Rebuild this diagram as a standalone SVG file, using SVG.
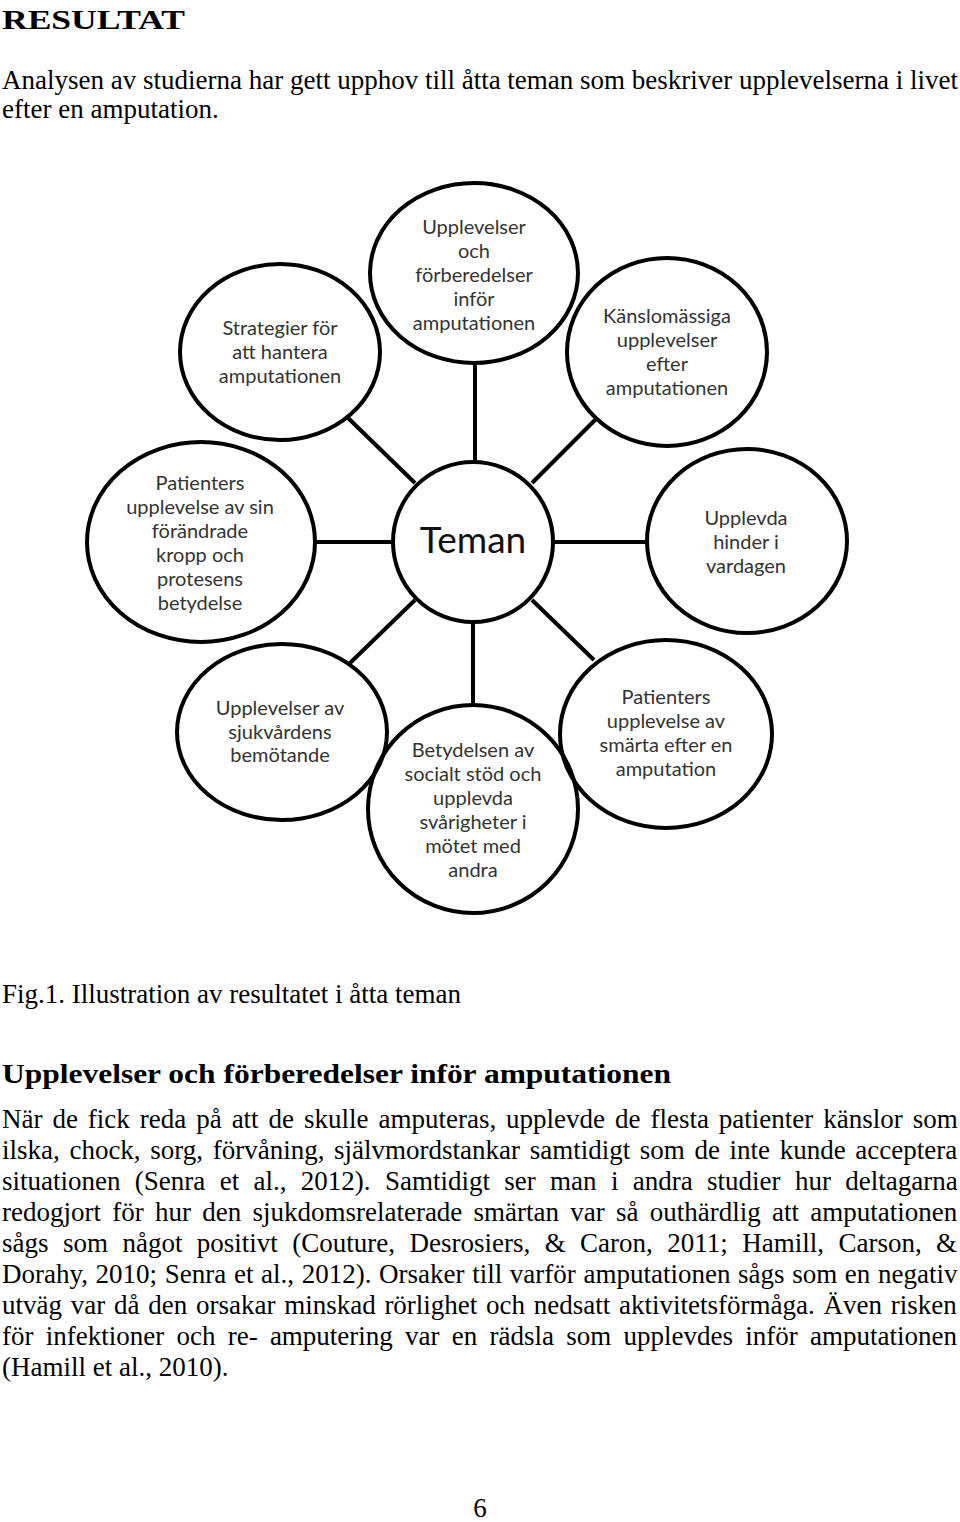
<svg xmlns="http://www.w3.org/2000/svg" width="960" height="1522" viewBox="0 0 960 1522">
<style>
.doc{font-family:"Liberation Serif","Times New Roman",serif;font-size:27px;fill:#000}
.b{font-weight:bold}
.node ellipse{fill:none;stroke:#000;stroke-width:4}
.lbl{font-family:Lato,"Noto Sans",sans-serif;font-size:20px;fill:#333;text-anchor:middle}
.conn line{stroke:#000;stroke-width:4}
</style>
<rect width="960" height="1522" fill="#fff"/>
<text class="doc b" x="2" y="29" font-size="36" textLength="183" lengthAdjust="spacingAndGlyphs">RESULTAT</text>
<text class="doc" x="2" y="89">Analysen av studierna har gett upphov till åtta teman som beskriver upplevelserna i livet</text>
<text class="doc" x="2" y="118">efter en amputation.</text>

<g class="conn" id="connectors">
<line x1="475" y1="363" x2="475" y2="463"/>
<line x1="346" y1="416" x2="415" y2="483"/>
<line x1="597" y1="418" x2="532" y2="483"/>
<line x1="315" y1="542" x2="393" y2="542"/>
<line x1="553" y1="542" x2="648" y2="542"/>
<line x1="415" y1="600" x2="350" y2="663"/>
<line x1="532" y1="600" x2="594" y2="660"/>
<line x1="473" y1="622" x2="473" y2="705"/>
</g>

<g class="node" id="n-teman">
<ellipse cx="473" cy="542" rx="80" ry="80"/>
<text x="473" y="553" text-anchor="middle" font-family="Lato,'Noto Sans',sans-serif" font-size="37" fill="#111">Teman</text>
</g>
<g class="node" id="n-top">
<ellipse cx="474" cy="273" rx="104" ry="90"/>
<text class="lbl"><tspan x="474" y="234">Upplevelser</tspan><tspan x="474" y="258">och</tspan><tspan x="474" y="282">förberedelser</tspan><tspan x="474" y="306">inför</tspan><tspan x="474" y="330">amputationen</tspan></text>
</g>
<g class="node" id="n-strategier">
<ellipse cx="280" cy="352" rx="100" ry="88"/>
<text class="lbl"><tspan x="280" y="335">Strategier för</tspan><tspan x="280" y="359">att hantera</tspan><tspan x="280" y="383">amputationen</tspan></text>
</g>
<g class="node" id="n-kansla">
<ellipse cx="667" cy="352" rx="100" ry="94"/>
<text class="lbl"><tspan x="667" y="323">Känslomässiga</tspan><tspan x="667" y="347">upplevelser</tspan><tspan x="667" y="371">efter</tspan><tspan x="667" y="395">amputationen</tspan></text>
</g>
<g class="node" id="n-kropp">
<ellipse cx="201" cy="542" rx="114" ry="100"/>
<text class="lbl"><tspan x="200" y="490">Patienters</tspan><tspan x="200" y="514">upplevelse av sin</tspan><tspan x="200" y="538">förändrade</tspan><tspan x="200" y="562">kropp och</tspan><tspan x="200" y="586">protesens</tspan><tspan x="200" y="610">betydelse</tspan></text>
</g>
<g class="node" id="n-hinder">
<ellipse cx="747" cy="541" rx="100" ry="92"/>
<text class="lbl"><tspan x="746" y="525">Upplevda</tspan><tspan x="746" y="549">hinder i</tspan><tspan x="746" y="573">vardagen</tspan></text>
</g>
<g class="node" id="n-sjukvard">
<ellipse cx="282" cy="732" rx="105" ry="88"/>
<text class="lbl"><tspan x="280" y="715">Upplevelser av</tspan><tspan x="280" y="739">sjukvårdens</tspan><tspan x="280" y="762">bemötande</tspan></text>
</g>
<g class="node" id="n-socialt">
<ellipse cx="473" cy="809" rx="105" ry="104"/>
<text class="lbl"><tspan x="473" y="757">Betydelsen av</tspan><tspan x="473" y="781">socialt stöd och</tspan><tspan x="473" y="805">upplevda</tspan><tspan x="473" y="829">svårigheter i</tspan><tspan x="473" y="853">mötet med</tspan><tspan x="473" y="877">andra</tspan></text>
</g>
<g class="node" id="n-smarta">
<ellipse cx="666" cy="734" rx="106" ry="94"/>
<text class="lbl"><tspan x="666" y="704">Patienters</tspan><tspan x="666" y="728">upplevelse av</tspan><tspan x="666" y="752">smärta efter en</tspan><tspan x="666" y="776">amputation</tspan></text>
</g>

<text class="doc" x="2" y="1003">Fig.1. Illustration av resultatet i åtta teman</text>
<text class="doc b" x="2" y="1083" font-size="32" textLength="669" lengthAdjust="spacingAndGlyphs">Upplevelser och förberedelser inför amputationen</text>
<text class="doc" x="2" y="1128" word-spacing="3.2">När de fick reda på att de skulle amputeras, upplevde de flesta patienter känslor som</text>
<text class="doc" x="2" y="1159" word-spacing="2.9">ilska, chock, sorg, förvåning, självmordstankar samtidigt som de inte kunde acceptera</text>
<text class="doc" x="2" y="1190" word-spacing="7.6">situationen (Senra et al., 2012). Samtidigt ser man i andra studier hur deltagarna</text>
<text class="doc" x="2" y="1221" word-spacing="4.5">redogjort för hur den sjukdomsrelaterade smärtan var så outhärdlig att amputationen</text>
<text class="doc" x="2" y="1252" word-spacing="7.7">sågs som något positivt (Couture, Desrosiers, &amp; Caron, 2011; Hamill, Carson, &amp;</text>
<text class="doc" x="2" y="1283" word-spacing="0.9">Dorahy, 2010; Senra et al., 2012). Orsaker till varför amputationen sågs som en negativ</text>
<text class="doc" x="2" y="1314" word-spacing="2">utväg var då den orsakar minskad rörlighet och nedsatt aktivitetsförmåga. Även risken</text>
<text class="doc" x="2" y="1345" word-spacing="5.5">för infektioner och re- amputering var en rädsla som upplevdes inför amputationen</text>
<text class="doc" x="2" y="1376">(Hamill et al., 2010).</text>
<text class="doc" x="480" y="1517" text-anchor="middle">6</text>
</svg>
